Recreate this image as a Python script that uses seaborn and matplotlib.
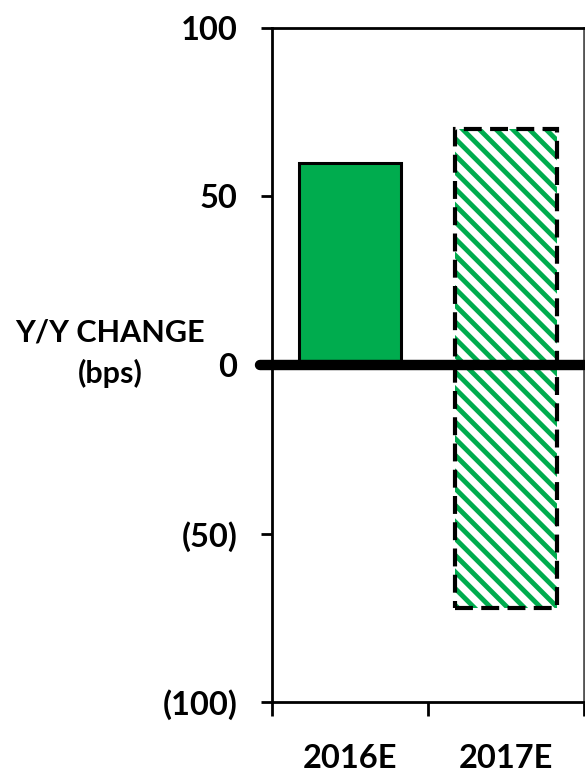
import matplotlib
matplotlib.use("Agg")
import matplotlib.pyplot as plt
from matplotlib.patches import Rectangle
from matplotlib.ticker import FixedLocator, FuncFormatter
import pandas as pd
import seaborn as sns

categories = ["2016E", "2017E"]
upper_values = [60, 70]
lower_categories = ["2017E"]
lower_values = [-72]
y_ticks = [100, 50, 0, -50, -100]

GREEN = "#00AC4E"
FS = 23.5

sns.set_theme(style="white")
plt.rcParams["font.family"] = ["Lato", "DejaVu Sans"]
plt.rcParams["font.weight"] = "bold"
plt.rcParams["text.color"] = "black"
plt.rcParams["xtick.color"] = "black"
plt.rcParams["ytick.color"] = "black"
plt.rcParams["hatch.linewidth"] = 3.5

fig = plt.figure(figsize=(5.85, 7.75), dpi=100)
ax = fig.add_axes([0.465, 0.094, 0.533, 0.870])

upper = pd.DataFrame({"year": categories, "value": upper_values})
lower = pd.DataFrame({"year": lower_categories, "value": lower_values})

sns.barplot(data=upper, x="year", y="value", order=categories, ax=ax,
            width=0.65, color=GREEN, saturation=1)
n_up = len(ax.patches)
sns.barplot(data=lower, x="year", y="value", order=categories, ax=ax,
            width=0.65, color=GREEN, saturation=1)

patches = list(ax.patches)
solid = patches[0]
solid.set_facecolor(GREEN)
solid.set_edgecolor("black")
solid.set_linewidth(2.2)

hatched = [patches[1]] + patches[n_up:]
for p in hatched:
    p.set_facecolor("white")
    p.set_edgecolor(GREEN)
    p.set_hatch("\\\\")
    p.set_linewidth(0)

# dashed outline around the whole 2017E range
top = patches[1]
bot = patches[n_up]
x0 = top.get_x()
y0 = bot.get_y() + bot.get_height()
ax.add_patch(Rectangle((x0, y0), top.get_width(), top.get_height() - y0,
                       fill=False, edgecolor="black", linewidth=3,
                       linestyle=(0, (4.3, 2)), zorder=4))

ax.axhline(0, xmin=-0.04, xmax=1, color="black", linewidth=7.5,
           clip_on=False, zorder=5)

ax.set_ylim(-100, 100)
ax.set_xlim(-0.5, 1.5)
ax.set_yticks(y_ticks)
ax.yaxis.set_major_formatter(FuncFormatter(
    lambda v, _: f"({abs(int(v))})" if v < 0 else f"{int(v)}"))
ax.tick_params(axis="y", length=8, width=2, direction="out",
               labelsize=FS, pad=17, left=True)
ax.xaxis.set_minor_locator(FixedLocator([-0.5, 0.5, 1.5]))
ax.tick_params(axis="x", which="major", length=0, labelsize=FS, pad=30)
ax.tick_params(axis="x", which="minor", length=10, width=2,
               bottom=True, direction="out")
for lab in ax.get_xticklabels() + ax.get_yticklabels():
    lab.set_fontweight("bold")

for side in ["left", "top", "bottom"]:
    ax.spines[side].set_color("black")
    ax.spines[side].set_linewidth(2)
ax.spines["right"].set_color("#555555")
ax.spines["right"].set_linewidth(2)

ax.set_xlabel("")
ax.set_ylabel("")
fig.text(0.188, 0.544, "Y/Y CHANGE\n(bps)", ha="center", va="center",
         fontsize=22, fontweight="bold", linespacing=1.5)

fig.savefig("out.png", dpi=100)
